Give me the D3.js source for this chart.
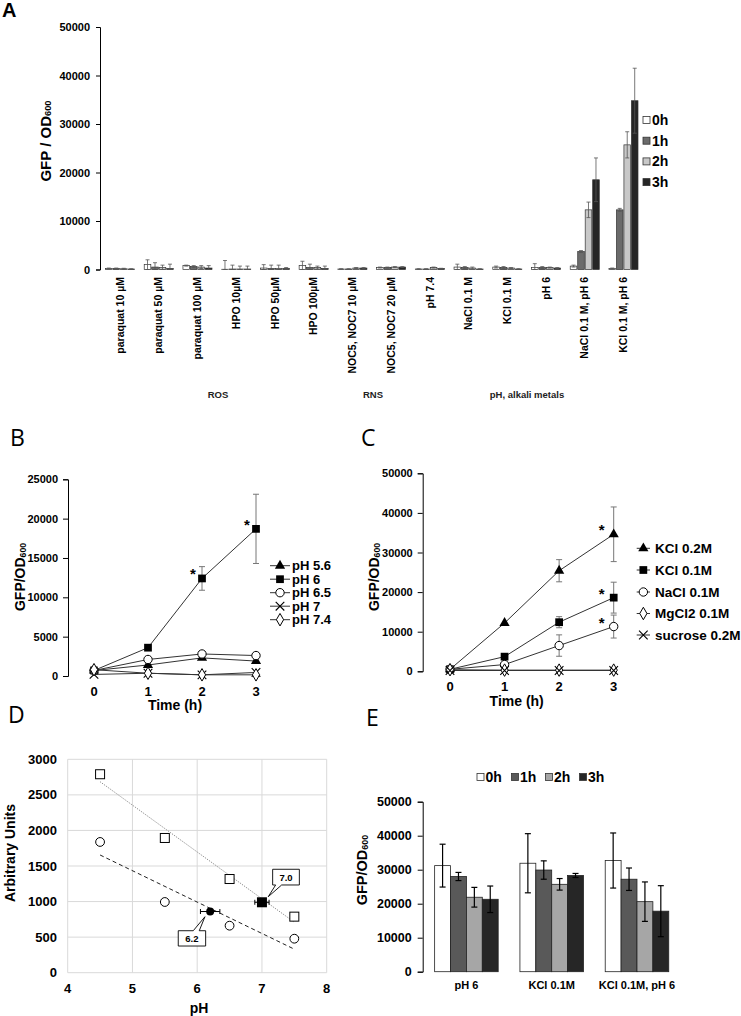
<!DOCTYPE html>
<html><head><meta charset="utf-8">
<script src="https://cdn.jsdelivr.net/npm/d3@7"></script>
<style>body{margin:0;background:#fff}svg{display:block}text{font-family:"Liberation Sans",Arial,sans-serif}</style>
</head><body>
<script>
// ---------- DATA ----------
const aCategories = ["paraquat 10 µM","paraquat 50 µM","paraquat 100 µM","HPO 10µM","HPO 50µM","HPO 100µM","NOC5, NOC7 10 µM","NOC5, NOC7 20 µM","pH 7.4","NaCl 0.1 M","KCl 0.1 M","pH 6","NaCl 0.1 M, pH 6","KCl 0.1 M, pH 6"];
const aGroupLabels = ["ROS","RNS","pH, alkali metals"];
const timeLabels = ["0h","1h","2h","3h"];
const a0h    = [200,1000,800,50,300,800,100,400,100,500,500,400,700,200];
const a0hErr = [100,1000,100,1800,700,900,50,100,50,600,200,800,200,100];
const a1h    = [200,500,600,100,200,400,100,400,100,400,400,400,3700,12300];
const a1hErr = [100,900,200,800,700,700,50,100,50,200,200,200,200,300];
const a2h    = [150,400,500,100,200,400,300,500,400,300,300,400,12300,25700];
const a2hErr = [100,500,300,600,700,300,100,100,100,200,100,100,1600,2700];
const a3h    = [100,200,300,100,200,200,300,500,200,100,100,300,18500,34800];
const a3hErr = [50,900,500,600,200,500,100,100,50,50,50,100,4500,6700];
const aTicks = [0,10000,20000,30000,40000,50000];

const bTimes = [0,1,2,3];
const bNames = ["pH 5.6","pH 6","pH 6.5","pH 7","pH 7.4"];
const bPH56 = [700,1400,2300,1900];
const bPH6  = [700,3600,12400,18700];
const bPH65 = [700,2100,2800,2600];
const bPH7  = [200,350,150,450];
const bPH74 = [800,350,150,150];
const bPH6Err = [0,0,1500,4400];
const bPH6Sig = [false,false,true,true];
const bTicks = [0,5000,10000,15000,20000,25000];

const cTimes = [0,1,2,3];
const cNames = ["KCl 0.2M","KCl 0.1M","NaCl 0.1M","MgCl2 0.1M","sucrose 0.2M"];
const cKCl02 = [500,12200,25400,34600];
const cKCl01 = [500,3700,12400,18600];
const cNaCl01 = [500,1700,6500,11300];
const cMgCl2 = [400,300,300,300];
const cSucrose = [200,200,200,200];
const cKCl02Err = [0,0,2800,6900];
const cKCl01Err = [0,0,1400,3900];
const cNaCl01Err = [0,0,2700,2900];
const cKCl02Sig = [false,false,false,true];
const cKCl01Sig = [false,false,false,true];
const cNaCl01Sig = [false,false,false,true];
const cTicks = [0,10000,20000,30000,40000,50000];

const dPH = [4.5,5.5,6.5,7.5];
const dSquares = [2790,1894,1317,788];
const dCircles = [1838,994,661,478];
const dEstPH = [7.0,6.2];
const dEstValue = [990,860];
const dEstErr = [0.11,0.15];
const dEstLabels = ["7.0","6.2"];
const dXTicks = [4,5,6,7,8];
const dYTicks = [0,500,1000,1500,2000,2500,3000];

const eCategories = ["pH 6","KCl 0.1M","KCl 0.1M, pH 6"];
const e0h = [31200,31900,32700], e0hErr = [6300,8700,8100];
const e1h = [28000,29900,27200], e1hErr = [1200,2700,3300];
const e2h = [21900,25700,20600], e2hErr = [2900,1700,5800];
const e3h = [21300,28300,17800], e3hErr = [3900,600,7500];
const eTicks = [0,10000,20000,30000,40000,50000];

// ---------- DRAW ----------
const svg = d3.select("body").append("svg").attr("width",741).attr("height",1016);
svg.append("rect").attr("width",741).attr("height",1016).attr("fill","#fff");

function panelLetter(t,x,y,bold){
  svg.append("text").attr("x",x).attr("y",y).text(t)
    .style("font-family", bold ? "'Liberation Sans',Arial" : "'Open Sans',sans-serif")
    .style("font-weight", bold ? 700 : 400).style("font-size", bold ? "20px" : "23px");
}
function yLabel(x,y,main,sub,size){
  const t = svg.append("text").attr("transform",`translate(${x},${y}) rotate(-90)`)
    .attr("text-anchor","middle").attr("dominant-baseline","central")
    .style("font-weight",700).style("font-size",size+"px");
  t.append("tspan").text(main);
  if(sub) t.append("tspan").text(sub).style("font-size",(size*0.62)+"px").attr("dy","0.35em");
}
function styleAxis(g, size){
  g.selectAll("text").style("font-weight",700).style("font-size",size+"px").attr("fill","#000");
  g.selectAll("line").attr("stroke","#000");
  g.select(".domain").attr("stroke","#000");
}
function symPath(type,size){
  const t = {triangle:d3.symbolTriangle, square:d3.symbolSquare, circle:d3.symbolCircle,
             diamond:d3.symbolDiamond, times:(d3.symbolTimes||d3.symbolX||d3.symbolCross)}[type];
  return d3.symbol().type(t).size(size)();
}
function drawMarker(g,type,x,y,size){
  const p = g.append("path").attr("d",symPath(type,size)).attr("transform",`translate(${x},${y})`);
  if(type==="triangle"||type==="square") p.attr("fill","#000");
  else if(type==="times") p.attr("fill","none").attr("stroke","#000").attr("stroke-width",1.1);
  else p.attr("fill","#fff").attr("stroke","#000").attr("stroke-width",1);
}
function errBar(g,x,y1,y2,cap,color,w){
  g.append("line").attr("x1",x).attr("x2",x).attr("y1",y1).attr("y2",y2).attr("stroke",color).attr("stroke-width",w);
  g.append("line").attr("x1",x-cap).attr("x2",x+cap).attr("y1",y1).attr("y2",y1).attr("stroke",color).attr("stroke-width",w);
  g.append("line").attr("x1",x-cap).attr("x2",x+cap).attr("y1",y2).attr("y2",y2).attr("stroke",color).attr("stroke-width",w);
}

// ===== Panel A =====
panelLetter("A",2,17,true);
const aVals = [a0h,a1h,a2h,a3h], aErrs=[a0hErr,a1hErr,a2hErr,a3hErr];
const aColors = ["#ffffff","#6b6b6b","#c8c8c8","#262626"];
const ax = d3.scaleBand().domain(aCategories).range([100,643.5]).paddingInner(0.25).paddingOuter(0.142);
const axIn = d3.scaleBand().domain(timeLabels).range([0,ax.bandwidth()]).paddingInner(0.12);
const ay = d3.scaleLinear().domain([0,50000]).range([269.5,27]);
const gA = svg.append("g");
const aAxis = gA.append("g").attr("transform","translate(100,0)")
  .call(d3.axisLeft(ay).tickValues(aTicks).tickSize(4).tickPadding(6).tickFormat(d3.format("d")));
styleAxis(aAxis,11);
yLabel(45,141,"GFP / OD","600",15);
aCategories.forEach((c,i)=>{
  timeLabels.forEach((t,k)=>{
    const v=aVals[k][i], e=aErrs[k][i];
    const x0 = ax(c)+axIn(t);
    gA.append("rect").attr("x",x0).attr("y",ay(v)).attr("width",axIn.bandwidth()).attr("height",ay(0)-ay(v))
      .attr("fill",aColors[k]).attr("stroke","#333").attr("stroke-width",0.7);
    errBar(gA,x0+axIn.bandwidth()/2,ay(v+e),ay(Math.max(0,v-e)),2,"#555",0.8);
  });
  gA.append("text").attr("transform",`translate(${ax(c)+ax.bandwidth()/2},277) rotate(-90)`)
    .attr("text-anchor","end").attr("dy","0.35em").text(c)
    .style("font-weight",700).style("font-size","10.5px");
});
const aGroupX=[218,373,527];
aGroupLabels.forEach((g,i)=>{
  gA.append("text").attr("x",aGroupX[i]).attr("y",398).attr("text-anchor","middle").text(g)
    .style("font-weight",700).style("font-size","9.5px").attr("fill","#222");
});
timeLabels.forEach((t,k)=>{
  const y = 120 + k*20.7;
  gA.append("rect").attr("x",643).attr("y",y-3.5).attr("width",7).attr("height",7)
    .attr("fill",aColors[k]).attr("stroke","#333").attr("stroke-width",0.8);
  gA.append("text").attr("x",652).attr("y",y).attr("dominant-baseline","central").text(t)
    .style("font-weight",700).style("font-size","14px");
});

// ===== Line charts B and C =====
function lineChart(cfg){
  const g = svg.append("g");
  const x = d3.scaleLinear().domain([0,3]).range(cfg.xr);
  const y = d3.scaleLinear().domain([0,cfg.ymax]).range(cfg.yr);
  const yAx = g.append("g").attr("transform",`translate(${cfg.axisX},0)`)
    .call(d3.axisLeft(y).tickValues(cfg.yticks).tickSize(5).tickPadding(5).tickFormat(d3.format("d")));
  styleAxis(yAx,11);
  cfg.times.forEach(t=>{
    g.append("text").attr("x",x(t)).attr("y",cfg.xLabY).attr("text-anchor","middle").attr("dominant-baseline","central")
      .text(t).style("font-weight",700).style("font-size","13px");
  });
  g.append("text").attr("x",cfg.titleX).attr("y",cfg.titleY).attr("text-anchor","middle").attr("dominant-baseline","central")
    .text("Time (h)").style("font-weight",700).style("font-size","14px");
  const line = d3.line().x((d,i)=>x(cfg.times[i])).y(d=>y(d));
  cfg.series.forEach(s=>{
    g.append("path").attr("d",line(s.v)).attr("fill","none").attr("stroke","#333").attr("stroke-width",1);
  });
  cfg.series.forEach(s=>{
    if(s.err) s.v.forEach((v,i)=>{ if(s.err[i]>0) errBar(g,x(cfg.times[i]),y(v+s.err[i]),y(v-s.err[i]),3,"#777",1); });
  });
  cfg.series.forEach(s=>{
    s.v.forEach((v,i)=>drawMarker(g,s.m,x(cfg.times[i]),y(v),s.size||50));
    if(s.sig) s.v.forEach((v,i)=>{ if(s.sig[i]) g.append("text").attr("x",x(cfg.times[i])-cfg.starDx).attr("y",y(v)-cfg.starDy)
      .attr("text-anchor","middle").text("*").style("font-weight",700).style("font-size","15px"); });
  });
  cfg.series.forEach((s,k)=>{
    const ly = cfg.legY[k];
    g.append("line").attr("x1",cfg.legX1).attr("x2",cfg.legX2).attr("y1",ly).attr("y2",ly).attr("stroke","#333");
    drawMarker(g,s.m,(cfg.legX1+cfg.legX2)/2,ly,s.size||50);
    g.append("text").attr("x",cfg.legTx).attr("y",ly).attr("dominant-baseline","central").text(s.name)
      .style("font-weight",700).style("font-size",cfg.legFont+"px");
  });
}
panelLetter("B",10,446,false);
lineChart({xr:[94,256], yr:[676,479.3], ymax:25000, yticks:bTicks, axisX:68, times:bTimes,
  xLabY:691, titleX:175, titleY:705, starDx:9, starDy:-1,
  legX1:270, legX2:290, legTx:292, legY:[565.7,579.2,592.7,606.2,619.7], legFont:13,
  series:[
    {name:bNames[0],v:bPH56,m:"triangle",size:45},
    {name:bNames[1],v:bPH6,m:"square",size:60,err:bPH6Err,sig:bPH6Sig},
    {name:bNames[2],v:bPH65,m:"circle",size:55},
    {name:bNames[3],v:bPH7,m:"times",size:50},
    {name:bNames[4],v:bPH74,m:"diamond",size:45}
  ]});
yLabel(20,577,"GFP/OD","600",14);

panelLetter("C",361,446,false);
lineChart({xr:[450,613.7], yr:[671.3,473.3], ymax:50000, yticks:cTicks, axisX:422.7, times:cTimes,
  xLabY:686, titleX:516.7, titleY:701, starDx:12, starDy:-1,
  legX1:636.7, legX2:650, legTx:655, legY:[548.3,570,592,613.5,635], legFont:13.5,
  series:[
    {name:cNames[0],v:cKCl02,m:"triangle",size:45,err:cKCl02Err,sig:cKCl02Sig},
    {name:cNames[1],v:cKCl01,m:"square",size:60,err:cKCl01Err,sig:cKCl01Sig},
    {name:cNames[2],v:cNaCl01,m:"circle",size:55,err:cNaCl01Err,sig:cNaCl01Sig},
    {name:cNames[3],v:cMgCl2,m:"diamond",size:45},
    {name:cNames[4],v:cSucrose,m:"times",size:50}
  ]});
yLabel(374,577,"GFP/OD","600",14);

// ===== Panel D =====
panelLetter("D",8,723,false);
const gD = svg.append("g");
const dx = d3.scaleLinear().domain([4,8]).range([67.7,326.7]);
const dy = d3.scaleLinear().domain([0,3000]).range([972.7,759.3]);
dXTicks.forEach(t=>gD.append("line").attr("x1",dx(t)).attr("x2",dx(t)).attr("y1",dy(0)).attr("y2",dy(3000)).attr("stroke","#d9d9d9"));
dYTicks.forEach(t=>gD.append("line").attr("x1",dx(4)).attr("x2",dx(8)).attr("y1",dy(t)).attr("y2",dy(t)).attr("stroke","#d9d9d9"));
dXTicks.forEach(t=>gD.append("text").attr("x",dx(t)).attr("y",988.5).attr("text-anchor","middle").attr("dominant-baseline","central")
  .text(t).style("font-weight",700).style("font-size","13px"));
dYTicks.forEach(t=>gD.append("text").attr("x",57).attr("y",dy(t)).attr("text-anchor","end").attr("dominant-baseline","central")
  .text(t).style("font-weight",700).style("font-size","13px"));
gD.append("text").attr("x",199).attr("y",1008).attr("text-anchor","middle").attr("dominant-baseline","central")
  .text("pH").style("font-weight",700).style("font-size","14px");
yLabel(10,853,"Arbitrary Units",null,14);
function regress(xs,ys){
  const mx=d3.mean(xs), my=d3.mean(ys);
  const b=d3.sum(xs.map((x,i)=>(x-mx)*(ys[i]-my)))/d3.sum(xs.map(x=>(x-mx)*(x-mx)));
  return x=>my+b*(x-mx);
}
const fS = regress(dPH,dSquares), fC = regress(dPH,dCircles);
const x0d=d3.min(dPH), x1d=d3.max(dPH);
gD.append("line").attr("x1",dx(x0d)).attr("y1",dy(fS(x0d))).attr("x2",dx(x1d)).attr("y2",dy(fS(x1d)))
  .attr("stroke","#8c8c8c").attr("stroke-width",1).attr("stroke-dasharray","1.2,1.2");
gD.append("line").attr("x1",dx(x0d)).attr("y1",dy(fC(x0d))).attr("x2",dx(x1d)).attr("y2",dy(fC(x1d)))
  .attr("stroke","#222").attr("stroke-width",1).attr("stroke-dasharray","4,3");
dPH.forEach((p,i)=>{
  gD.append("rect").attr("x",dx(p)-4.5).attr("y",dy(dSquares[i])-4.5).attr("width",9).attr("height",9)
    .attr("fill","#fff").attr("stroke","#000").attr("stroke-width",1);
  gD.append("circle").attr("cx",dx(p)).attr("cy",dy(dCircles[i])).attr("r",4.4)
    .attr("fill","#fff").attr("stroke","#000").attr("stroke-width",1);
});
dEstPH.forEach((p,i)=>{
  const px=dx(p), py=dy(dEstValue[i]);
  const ex1=dx(p-dEstErr[i]), ex2=dx(p+dEstErr[i]);
  gD.append("line").attr("x1",ex1).attr("x2",ex2).attr("y1",py).attr("y2",py).attr("stroke","#000");
  [ex1,ex2].forEach(e=>gD.append("line").attr("x1",e).attr("x2",e).attr("y1",py-2.5).attr("y2",py+2.5).attr("stroke","#000"));
  if(i===0) gD.append("rect").attr("x",px-5).attr("y",py-5).attr("width",10).attr("height",10).attr("fill","#000");
  else gD.append("circle").attr("cx",px).attr("cy",py).attr("r",4).attr("fill","#000");
});
// callouts
(function(){
  const p0x=dx(dEstPH[0]), p0y=dy(dEstValue[0]);
  const bx=p0x+10.7, by=p0y-33, bw=26.7, bh=15.7;
  gD.append("path").attr("d",`M${bx},${by}H${bx+bw}V${by+bh}H${bx+9}L${p0x+6.3},${p0y-5.6}L${bx+3},${by+bh}H${bx}Z`)
    .attr("fill","#fff").attr("stroke","#000").attr("stroke-width",0.9);
  gD.append("text").attr("x",bx+bw/2).attr("y",by+bh/2).attr("text-anchor","middle").attr("dominant-baseline","central")
    .text(dEstLabels[0]).style("font-weight",700).style("font-size","9.5px");
  const p1x=dx(dEstPH[1]), p1y=dy(dEstValue[1]);
  const cx=p1x-31.9, cy=p1y+19.2, cw=27.4, ch=15.3;
  gD.append("path").attr("d",`M${cx},${cy}H${cx+15}L${p1x-5.2},${p1y+5.2}L${cx+21},${cy}H${cx+cw}V${cy+ch}H${cx}Z`)
    .attr("fill","#fff").attr("stroke","#000").attr("stroke-width",0.9);
  gD.append("text").attr("x",cx+cw/2).attr("y",cy+ch/2).attr("text-anchor","middle").attr("dominant-baseline","central")
    .text(dEstLabels[1]).style("font-weight",700).style("font-size","9.5px");
})();

// ===== Panel E =====
panelLetter("E",366,726,false);
const gE = svg.append("g");
const eVals=[e0h,e1h,e2h,e3h], eErrs=[e0hErr,e1hErr,e2hErr,e3hErr];
const eColors=["#ffffff","#595959","#a6a6a6","#262626"];
const ex = d3.scaleBand().domain(eCategories).range([422.7,680.7]).paddingInner(0.255).paddingOuter(0.14);
const exIn = d3.scaleBand().domain(timeLabels).range([0,ex.bandwidth()]);
const ey = d3.scaleLinear().domain([0,50000]).range([971.7,801.7]);
const eAx = gE.append("g").attr("transform","translate(422.7,0)")
  .call(d3.axisLeft(ey).tickValues(eTicks).tickSize(5).tickPadding(6).tickFormat(d3.format("d")));
styleAxis(eAx,12.5);
yLabel(362,870,"GFP/OD","600",14.5);
eCategories.forEach((c,i)=>{
  timeLabels.forEach((t,k)=>{
    const v=eVals[k][i], e=eErrs[k][i], x0=ex(c)+exIn(t);
    gE.append("rect").attr("x",x0).attr("y",ey(v)).attr("width",exIn.bandwidth()).attr("height",ey(0)-ey(v))
      .attr("fill",eColors[k]).attr("stroke","#222").attr("stroke-width",0.8);
  });
  timeLabels.forEach((t,k)=>{
    const v=eVals[k][i], e=eErrs[k][i], xc=ex(c)+exIn(t)+exIn.bandwidth()/2;
    errBar(gE,xc,ey(v+e),ey(v-e),3,"#000",1.2);
  });
  gE.append("text").attr("x",ex(c)+ex.bandwidth()/2).attr("y",985).attr("text-anchor","middle").attr("dominant-baseline","central")
    .text(c).style("font-weight",700).style("font-size","11px");
});
const eLegX=[477,511.5,545.5,579.5];
timeLabels.forEach((t,k)=>{
  gE.append("rect").attr("x",eLegX[k]).attr("y",773.5).attr("width",7).attr("height",7)
    .attr("fill",eColors[k]).attr("stroke","#333").attr("stroke-width",0.8);
  gE.append("text").attr("x",eLegX[k]+8.5).attr("y",777).attr("dominant-baseline","central").text(t)
    .style("font-weight",700).style("font-size","14px");
});
</script></body></html>
